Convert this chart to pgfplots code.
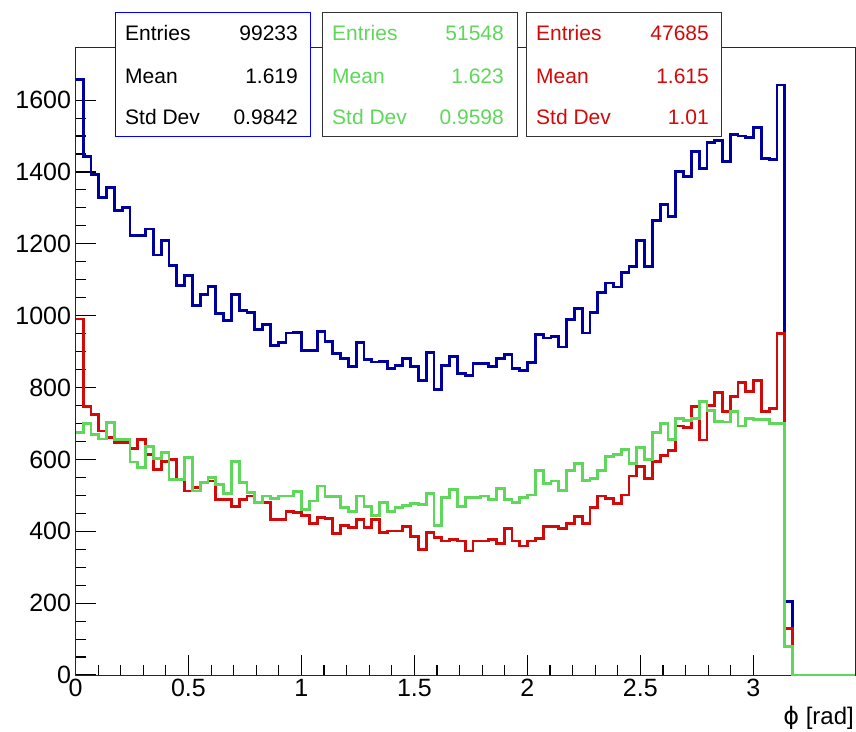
\documentclass[border=0pt]{standalone}
\usepackage{fontspec}
\setmainfont{Liberation Sans}
\newfontfamily\symfont{DejaVu Sans}
\usepackage{pgfplots}
\usepackage{pgfplotstable}
\pgfplotsset{compat=1.18}
\definecolor{hblue}{RGB}{0,0,160}
\definecolor{boxblue}{RGB}{0,0,255}
\definecolor{hgreen}{RGB}{95,215,90}
\definecolor{hred}{RGB}{210,10,10}
\pgfplotstableread{
x b g r
0 1658 676 991
0.0345 1442 700 748
0.069 1392 669 725
0.1035 1330 657 679
0.138 1356 702 660
0.1725 1292 656 648
0.207 1301 656 648
0.2415 1223 593 630
0.276 1223 577 656
0.3105 1241 637 614
0.345 1169 602 572
0.3795 1209 619 595
0.414 1140 544 600
0.4485 1083 544 544
0.483 1112 605 512
0.5175 1028 512 521
0.552 1060 535 535
0.5865 1081 549 540
0.621 1007 531 489
0.6555 987 505 489
0.69 1060 595 470
0.7245 1015 535 489
0.759 1009 509 498
0.7935 961 481 481
0.828 975 498 481
0.8625 918 491 433
0.897 926 498 433
0.9315 952 498 456
0.966 954 510 452
1.0005 903 461 444
1.035 903 484 422
1.0695 956 526 438
1.104 929 496 435
1.1385 894 496 394
1.173 880 466 417
1.2075 859 454 410
1.242 926 498 433
1.2765 878 469 410
1.311 871 443 433
1.3455 873 481 396
1.38 852 454 401
1.4145 862 466 401
1.449 880 472 413
1.4835 859 478 385
1.518 819 475 350
1.5525 898 506 396
1.587 794 415 382
1.6215 862 495 373
1.656 887 517 376
1.6905 839 470 373
1.725 834 494 345
1.7595 867 494 373
1.794 867 498 373
1.8285 859 489 378
1.863 881 519 367
1.8975 892 489 407
1.932 852 481 373
1.9665 848 494 359
2.001 870 501 373
2.0355 947 570 380
2.07 938 533 413
2.1045 943 540 413
2.139 913 514 408
2.1735 989 570 421
2.208 1019 589 441
2.2425 952 542 421
2.277 1009 546 466
2.3115 1065 570 498
2.346 1091 609 491
2.3805 1080 614 478
2.415 1120 627 501
2.4495 1137 589 554
2.484 1209 634 581
2.5185 1137 600 546
2.553 1265 676 595
2.5875 1310 699 611
2.622 1276 656 625
2.6565 1401 713 693
2.691 1387 708 688
2.7255 1456 714 748
2.76 1410 762 654
2.7945 1481 737 750
2.829 1487 706 787
2.8635 1429 704 734
2.898 1505 734 776
2.9325 1500 693 815
2.967 1497 714 790
3.0015 1524 711 820
3.036 1438 711 734
3.0705 1435 700 741
3.105 1642 700 950
3.1395 204 79 130
3.174 0 0 0
3.45 0 0 0
}\histdata
\begin{document}
\begin{tikzpicture}[x=1pt,y=1pt]
\path[use as bounding box] (0,0) rectangle (856,731);
\begin{axis}[
  at={(75.5pt,56pt)}, anchor=south west,
  scale only axis, width=779.5pt, height=627pt,
  xmin=0, xmax=3.45, ymin=0, ymax=1745,
  xtick={0,0.5,1,1.5,2,2.5,3},
  ytick={0,200,400,600,800,1000,1200,1400,1600},
  minor x tick num=4, minor y tick num=3,
  tick pos=left, tick align=inside,
  major tick length=20pt, minor tick length=10pt,
  axis line style={line width=1pt, black!85},
  tick style={line width=1.1pt, black},
  /pgf/number format/assume math mode=true,
  /pgf/number format/1000 sep={},
  scaled ticks=false,
  ticklabel style={font=\fontsize{25}{25}\selectfont},
  yticklabel style={xshift=-1pt},
  xticklabel style={yshift=-1pt},
  xlabel={{\symfont ϕ} [rad]},
  xlabel style={at={(axis description cs:1,0)}, anchor=north east, inner sep=0pt, xshift=-1pt, yshift=-31pt, font=\fontsize{24}{24}\selectfont},
  clip=false,
]
\addplot[const plot, hblue, line width=2.8pt] table[x=x,y=b] {\histdata};
\addplot[const plot, hred, line width=2.8pt] table[x=x,y=r] {\histdata};
\addplot[const plot, hgreen, line width=2.8pt] table[x=x,y=g] {\histdata};
\end{axis}
% stat boxes
\draw[boxblue, line width=1pt, fill=white] (115,594) rectangle (310,718);
\draw[black!80, line width=1pt, fill=white] (322,594) rectangle (517,718);
\draw[black!80, line width=1pt, fill=white] (526,594) rectangle (721,718);
\begin{scope}[every node/.style={inner sep=0pt, font=\fontsize{21}{21}\selectfont}]
\node[anchor=base west] at (125,690) {Entries};
\node[anchor=base west] at (125,647) {Mean};
\node[anchor=base west] at (125,606.5) {Std Dev};
\node[anchor=base east] at (298,690) {99233};
\node[anchor=base east] at (298,647) {1.619};
\node[anchor=base east] at (298,606.5) {0.9842};
\node[anchor=base west, text=hgreen] at (332,690) {Entries};
\node[anchor=base west, text=hgreen] at (332,647) {Mean};
\node[anchor=base west, text=hgreen] at (332,606.5) {Std Dev};
\node[anchor=base east, text=hgreen] at (504,690) {51548};
\node[anchor=base east, text=hgreen] at (504,647) {1.623};
\node[anchor=base east, text=hgreen] at (504,606.5) {0.9598};
\node[anchor=base west, text=hred] at (536,690) {Entries};
\node[anchor=base west, text=hred] at (536,647) {Mean};
\node[anchor=base west, text=hred] at (536,606.5) {Std Dev};
\node[anchor=base east, text=hred] at (709,690) {47685};
\node[anchor=base east, text=hred] at (709,647) {1.615};
\node[anchor=base east, text=hred] at (709,606.5) {1.01};
\end{scope}
\end{tikzpicture}
\end{document}
